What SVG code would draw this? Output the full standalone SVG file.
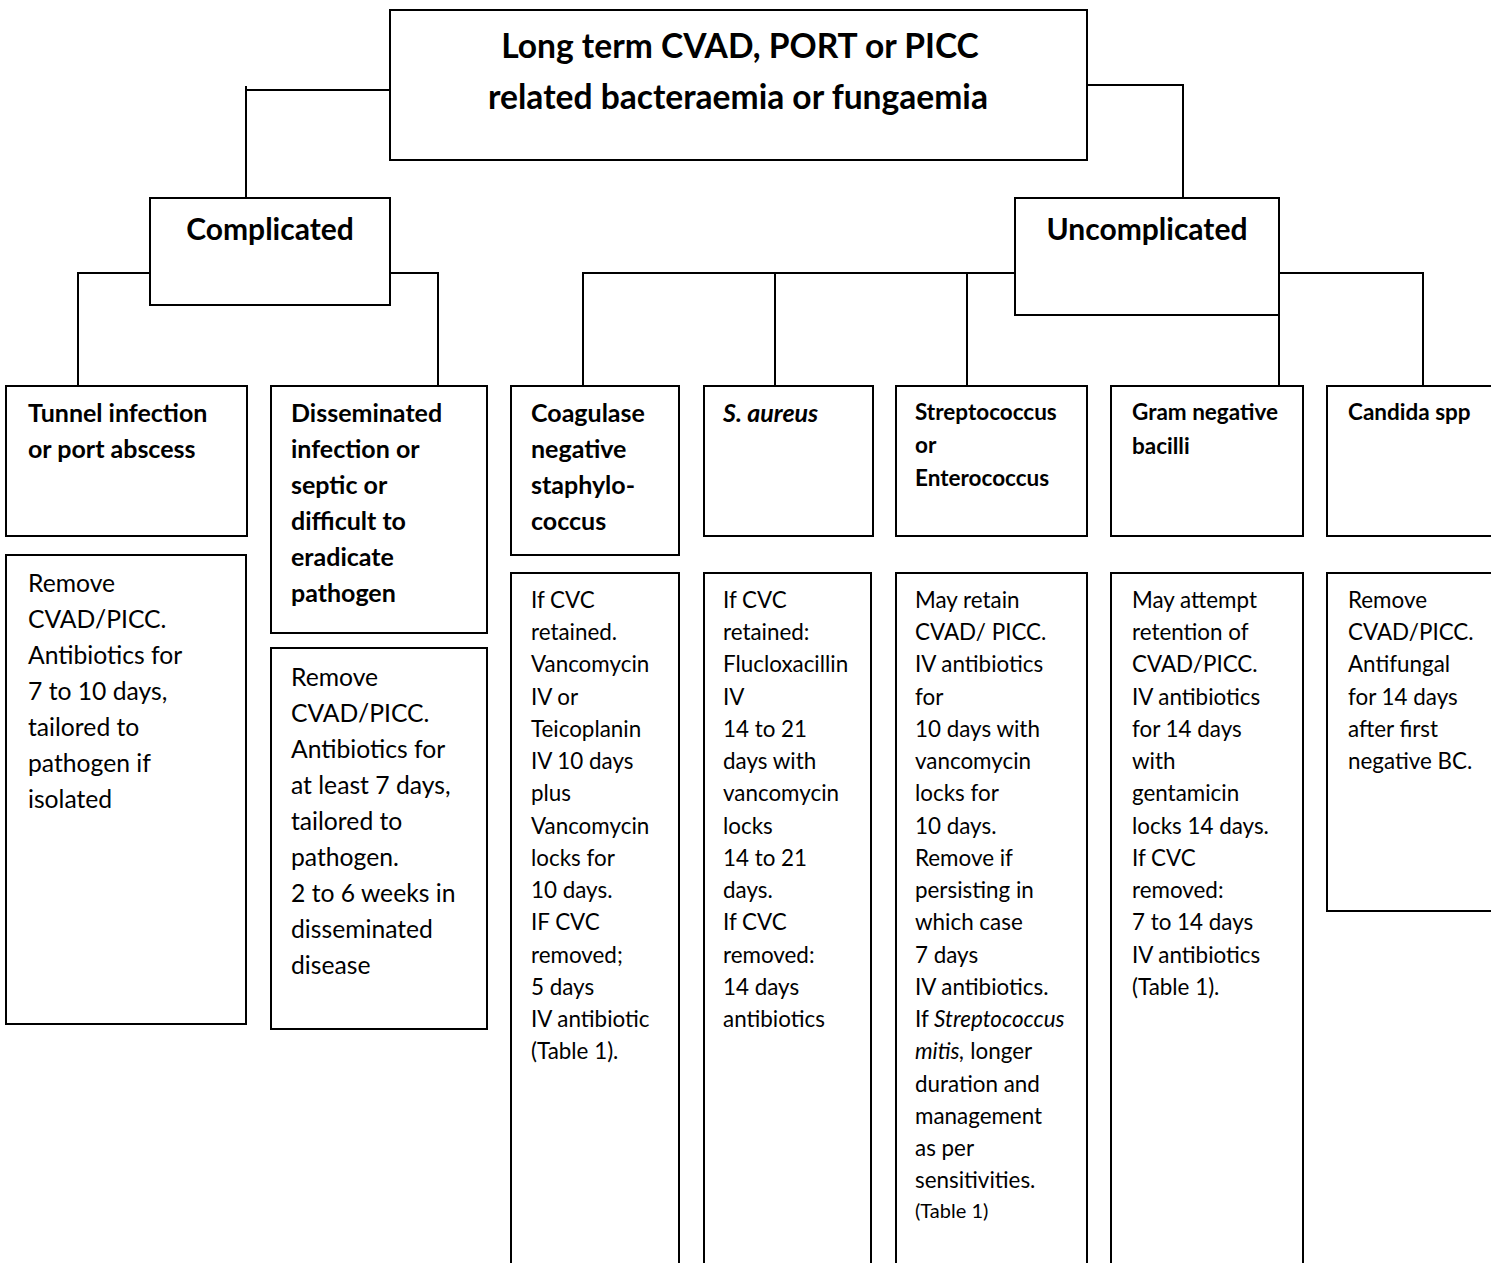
<svg xmlns="http://www.w3.org/2000/svg" width="1491" height="1263" viewBox="0 0 1491 1263">
<style>
.box{fill:#fff;stroke:#000;stroke-width:2}
.ln{fill:none;stroke:#000;stroke-width:2}
text{font-family:Lato,"Liberation Sans",sans-serif;fill:#000}
.t{font-weight:bold;font-size:33.6px}
.h{font-weight:bold;font-size:30px}
.hd{font-weight:bold;font-size:25px}
.hs{font-weight:bold;font-size:22.5px}
.b{font-size:24.7px}
.bs{font-size:22.4px}
.sm{font-size:20px}
</style>
<rect width="1491" height="1263" fill="#fff"/>
<g id="connectors">
<path class="ln" d="M390 90H246V198M246 86V90"/>
<path class="ln" d="M1087 85H1183V198"/>
<path class="ln" d="M150 273H78V386M390 273H438V386"/>
<path class="ln" d="M1015 273H583V386M775 273V386M967 273V386"/>
<path class="ln" d="M1279 315V386M1279 273H1423V386"/>
</g>
<g id="root">
<rect class="box" x="390" y="10" width="697" height="150"/>
<text class="t" text-anchor="middle"><tspan x="740" y="58">Long term CVAD, PORT or PICC</tspan><tspan x="738" y="109">related bacteraemia or fungaemia</tspan></text>
</g>
<g id="complicated">
<rect class="box" x="150" y="198" width="240" height="107"/>
<text class="h" x="270" y="240" text-anchor="middle">Complicated</text>
</g>
<g id="uncomplicated">
<rect class="box" x="1015" y="198" width="264" height="117"/>
<text class="h" x="1147" y="240" text-anchor="middle">Uncomplicated</text>
</g>
<g id="tunnel">
<rect class="box" x="6" y="386" width="241" height="150"/>
<text class="hd"><tspan x="28" y="422">Tunnel infection</tspan><tspan x="28" y="458">or port abscess</tspan></text>
</g>
<g id="tunnel-action">
<rect class="box" x="6" y="555" width="240" height="469"/>
<text class="b"><tspan x="28" y="592">Remove</tspan><tspan x="28" y="628">CVAD/PICC.</tspan><tspan x="28" y="664">Antibiotics for</tspan><tspan x="28" y="700">7 to 10 days,</tspan><tspan x="28" y="736">tailored to</tspan><tspan x="28" y="772">pathogen if</tspan><tspan x="28" y="808">isolated</tspan></text>
</g>
<g id="disseminated">
<rect class="box" x="271" y="386" width="216" height="247"/>
<text class="hd"><tspan x="291" y="422">Disseminated</tspan><tspan x="291" y="458">infection or</tspan><tspan x="291" y="494">septic or</tspan><tspan x="291" y="530">difficult to</tspan><tspan x="291" y="566">eradicate</tspan><tspan x="291" y="602">pathogen</tspan></text>
</g>
<g id="disseminated-action">
<rect class="box" x="271" y="648" width="216" height="381"/>
<text class="b"><tspan x="291" y="686">Remove</tspan><tspan x="291" y="722">CVAD/PICC.</tspan><tspan x="291" y="758">Antibiotics for</tspan><tspan x="291" y="794">at least 7 days,</tspan><tspan x="291" y="830">tailored to</tspan><tspan x="291" y="866">pathogen.</tspan><tspan x="291" y="902">2 to 6 weeks in</tspan><tspan x="291" y="938">disseminated</tspan><tspan x="291" y="974">disease</tspan></text>
</g>
<g id="cons">
<rect class="box" x="511" y="386" width="168" height="169"/>
<text class="hd"><tspan x="531" y="422">Coagulase</tspan><tspan x="531" y="458">negative</tspan><tspan x="531" y="494">staphylo-</tspan><tspan x="531" y="530">coccus</tspan></text>
</g>
<g id="cons-action">
<rect class="box" x="511" y="573" width="168" height="700"/>
<text class="bs"><tspan x="531" y="608">If CVC</tspan><tspan x="531" y="640">retained.</tspan><tspan x="531" y="672">Vancomycin</tspan><tspan x="531" y="705">IV or</tspan><tspan x="531" y="737">Teicoplanin</tspan><tspan x="531" y="769">IV 10 days</tspan><tspan x="531" y="801">plus</tspan><tspan x="531" y="834">Vancomycin</tspan><tspan x="531" y="866">locks for</tspan><tspan x="531" y="898">10 days.</tspan><tspan x="531" y="930">IF CVC</tspan><tspan x="531" y="963">removed;</tspan><tspan x="531" y="995">5 days</tspan><tspan x="531" y="1027">IV antibiotic</tspan><tspan x="531" y="1059">(Table 1).</tspan></text>
</g>
<g id="saureus">
<rect class="box" x="704" y="386" width="169" height="150"/>
<text class="hd" font-style="italic" x="723" y="422">S. aureus</text>
</g>
<g id="saureus-action">
<rect class="box" x="704" y="573" width="167" height="700"/>
<text class="bs"><tspan x="723" y="608">If CVC</tspan><tspan x="723" y="640">retained:</tspan><tspan x="723" y="672">Flucloxacillin</tspan><tspan x="723" y="705">IV</tspan><tspan x="723" y="737">14 to 21</tspan><tspan x="723" y="769">days with</tspan><tspan x="723" y="801">vancomycin</tspan><tspan x="723" y="834">locks</tspan><tspan x="723" y="866">14 to 21</tspan><tspan x="723" y="898">days.</tspan><tspan x="723" y="930">If CVC</tspan><tspan x="723" y="963">removed:</tspan><tspan x="723" y="995">14 days</tspan><tspan x="723" y="1027">antibiotics</tspan></text>
</g>
<g id="strep">
<rect class="box" x="896" y="386" width="191" height="150"/>
<text class="hs"><tspan x="915" y="420">Streptococcus</tspan><tspan x="915" y="453">or</tspan><tspan x="915" y="486">Enterococcus</tspan></text>
</g>
<g id="strep-action">
<rect class="box" x="896" y="573" width="191" height="700"/>
<text class="bs"><tspan x="915" y="608">May retain</tspan><tspan x="915" y="640">CVAD/ PICC.</tspan><tspan x="915" y="672">IV antibiotics</tspan><tspan x="915" y="705">for</tspan><tspan x="915" y="737">10 days with</tspan><tspan x="915" y="769">vancomycin</tspan><tspan x="915" y="801">locks for</tspan><tspan x="915" y="834">10 days.</tspan><tspan x="915" y="866">Remove if</tspan><tspan x="915" y="898">persisting in</tspan><tspan x="915" y="930">which case</tspan><tspan x="915" y="963">7 days</tspan><tspan x="915" y="995">IV antibiotics.</tspan><tspan x="915" y="1027">If <tspan font-style="italic">Streptococcus</tspan></tspan><tspan x="915" y="1059"><tspan font-style="italic">mitis,</tspan> longer</tspan><tspan x="915" y="1092">duration and</tspan><tspan x="915" y="1124">management</tspan><tspan x="915" y="1156">as per</tspan><tspan x="915" y="1188">sensitivities.</tspan></text>
<text class="sm" x="915" y="1218">(Table 1)</text>
</g>
<g id="gramneg">
<rect class="box" x="1111" y="386" width="192" height="150"/>
<text class="hs"><tspan x="1132" y="420">Gram negative</tspan><tspan x="1132" y="454">bacilli</tspan></text>
</g>
<g id="gramneg-action">
<rect class="box" x="1111" y="573" width="192" height="700"/>
<text class="bs"><tspan x="1132" y="608">May attempt</tspan><tspan x="1132" y="640">retention of</tspan><tspan x="1132" y="672">CVAD/PICC.</tspan><tspan x="1132" y="705">IV antibiotics</tspan><tspan x="1132" y="737">for 14 days</tspan><tspan x="1132" y="769">with</tspan><tspan x="1132" y="801">gentamicin</tspan><tspan x="1132" y="834">locks 14 days.</tspan><tspan x="1132" y="866">If CVC</tspan><tspan x="1132" y="898">removed:</tspan><tspan x="1132" y="930">7 to 14 days</tspan><tspan x="1132" y="963">IV antibiotics</tspan><tspan x="1132" y="995">(Table 1).</tspan></text>
</g>
<g id="candida">
<rect class="box" x="1327" y="386" width="180" height="150"/>
<text class="hs" x="1348" y="420">Candida spp</text>
</g>
<g id="candida-action">
<rect class="box" x="1327" y="573" width="180" height="338"/>
<text class="bs"><tspan x="1348" y="608">Remove</tspan><tspan x="1348" y="640">CVAD/PICC.</tspan><tspan x="1348" y="672">Antifungal</tspan><tspan x="1348" y="705">for 14 days</tspan><tspan x="1348" y="737">after first</tspan><tspan x="1348" y="769">negative BC.</tspan></text>
</g>
</svg>
